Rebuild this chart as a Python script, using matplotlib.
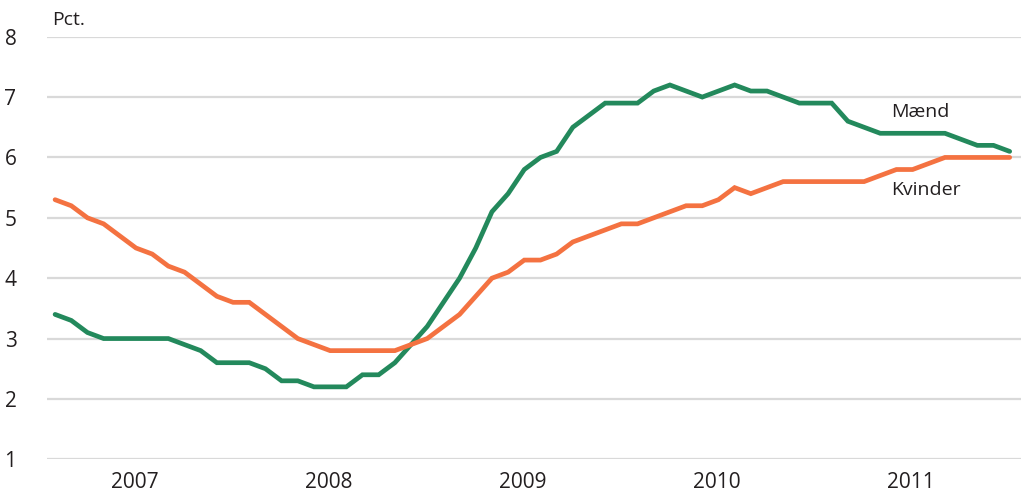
import numpy as np
import matplotlib
matplotlib.use('Agg')
import matplotlib.pyplot as plt

plt.rcParams['font.family'] = ['Open Sans', 'DejaVu Sans']

# monthly values, 60 months (2007 - 2011)
maend = [3.4, 3.3, 3.1, 3.0, 3.0, 3.0, 3.0, 3.0, 2.9, 2.8,
         2.6, 2.6, 2.6, 2.5, 2.3, 2.3, 2.2, 2.2, 2.2, 2.4,
         2.4, 2.6, 2.9, 3.2, 3.6, 4.0, 4.5, 5.1, 5.4, 5.8,
         6.0, 6.1, 6.5, 6.7, 6.9, 6.9, 6.9, 7.1, 7.2, 7.1,
         7.0, 7.1, 7.2, 7.1, 7.1, 7.0, 6.9, 6.9, 6.9, 6.6,
         6.5, 6.4, 6.4, 6.4, 6.4, 6.4, 6.3, 6.2, 6.2, 6.1]
kvinder = [5.3, 5.2, 5.0, 4.9, 4.7, 4.5, 4.4, 4.2, 4.1, 3.9,
           3.7, 3.6, 3.6, 3.4, 3.2, 3.0, 2.9, 2.8, 2.8, 2.8,
           2.8, 2.8, 2.9, 3.0, 3.2, 3.4, 3.7, 4.0, 4.1, 4.3,
           4.3, 4.4, 4.6, 4.7, 4.8, 4.9, 4.9, 5.0, 5.1, 5.2,
           5.2, 5.3, 5.5, 5.4, 5.5, 5.6, 5.6, 5.6, 5.6, 5.6,
           5.6, 5.7, 5.8, 5.8, 5.9, 6.0, 6.0, 6.0, 6.0, 6.0]
years = ['2007', '2008', '2009', '2010', '2011']
yticks = [1, 2, 3, 4, 5, 6, 7, 8]

x = np.arange(len(maend))
green = '#23895c'
orange = '#f47241'
txt = '#231f20'

fig = plt.figure(figsize=(10.21, 4.99), dpi=100)
ax = fig.add_axes([47/1021, 1 - 459.3/499, (1021-47)/1021, (459.3-36.7)/499])

ax.plot(x, maend, color=green, lw=3.4, solid_joinstyle='miter', solid_capstyle='round', zorder=3)
ax.plot(x, kvinder, color=orange, lw=3.4, solid_joinstyle='miter', solid_capstyle='round', zorder=3)

ax.set_ylim(1, 8)
ax.set_xlim(-0.5, 59.7)
ax.set_yticks(yticks)
ax.set_yticklabels([str(v) for v in yticks], fontsize=15, color=txt)
ax.set_xticks(4.9 + 12 * np.arange(len(years)))
ax.set_xticklabels(years, fontsize=15, color=txt)
ax.tick_params(axis='both', length=0)
ax.tick_params(axis='y', pad=22)
ax.tick_params(axis='x', pad=9)
ax.grid(axis='y', color='#d9d9d9', lw=1.6, zorder=0)
for s in ax.spines.values():
    s.set_visible(False)

ax.text(-0.2, 8.12, 'Pct.', fontsize=14, color=txt, va='bottom', ha='left')
ax.text(51.7, 6.75, 'Mænd', fontsize=14, color=txt, va='center', ha='left')
ax.text(51.7, 5.46, 'Kvinder', fontsize=14, color=txt, va='center', ha='left')

fig.savefig('out.png', dpi=100)
